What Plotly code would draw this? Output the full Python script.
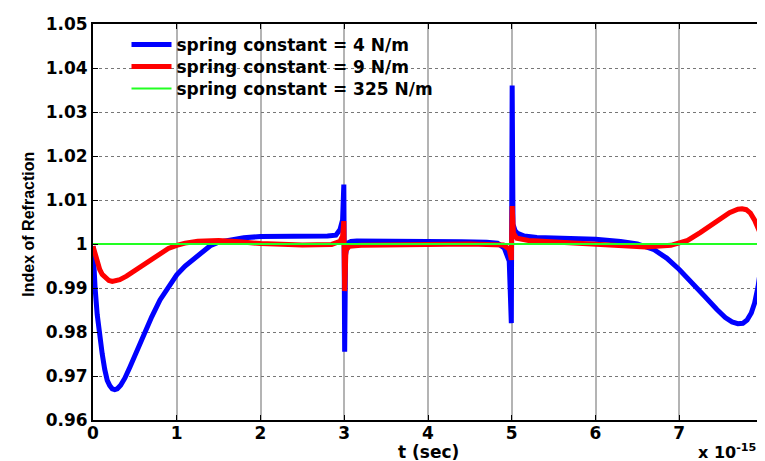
import plotly.graph_objects as go

# time axis in units of 1e-15 s
t_blue = [0.0, 0.01, 0.025, 0.05, 0.08, 0.11, 0.14, 0.17, 0.2, 0.23, 0.26, 0.29, 0.33, 0.38, 0.44, 0.5, 0.6, 0.7, 0.8, 0.9, 1.0, 1.1, 1.2, 1.3, 1.4, 1.5, 1.65, 1.8, 2.0, 2.3, 2.6, 2.8, 2.9, 2.95, 2.98, 2.995, 3.005, 3.015, 3.04, 3.08, 3.15, 3.3, 3.6, 4.0, 4.4, 4.7, 4.83, 4.91, 4.97, 4.995, 5.005, 5.015, 5.04, 5.07, 5.15, 5.3, 5.6, 6.0, 6.3, 6.5, 6.7, 6.85, 7.0, 7.15, 7.3, 7.45, 7.55, 7.63, 7.7, 7.76, 7.81, 7.86, 7.9, 7.94, 7.97, 8.0]
n_blue = [0.9995, 0.995, 0.990, 0.984, 0.979, 0.975, 0.9715, 0.969, 0.9678, 0.9671, 0.9669, 0.9671, 0.9679, 0.9695, 0.972, 0.9748, 0.9792, 0.9834, 0.9873, 0.9904, 0.993, 0.995, 0.9966, 0.9981, 0.9996, 1.0004, 1.001, 1.0014, 1.0017, 1.0017, 1.0016, 1.0018, 1.002, 1.0033, 1.0055, 1.0135, 0.9755, 0.9975, 1.0002, 1.0006, 1.0007, 1.0007, 1.0007, 1.0006, 1.0005, 1.0004, 1.0002, 0.9991, 0.9961, 0.982, 1.036, 1.0045, 1.003, 1.0024, 1.0018, 1.0015, 1.0014, 1.0011, 1.0006, 1.0, 0.9987, 0.9968, 0.9942, 0.9914, 0.9882, 0.9851, 0.9833, 0.9823, 0.9819, 0.9820, 0.9827, 0.9843, 0.9866, 0.9902, 0.9940, 0.998]

t_red = [0.0, 0.02, 0.05, 0.08, 0.11, 0.15, 0.19, 0.23, 0.27, 0.32, 0.4, 0.5, 0.6, 0.7, 0.8, 0.9, 1.0, 1.1, 1.25, 1.5, 1.75, 2.0, 2.5, 2.85, 2.95, 2.98, 2.995, 3.005, 3.02, 3.06, 3.2, 3.6, 4.0, 4.5, 4.9, 4.97, 4.995, 5.005, 5.02, 5.06, 5.2, 5.5, 6.0, 6.3, 6.6, 6.9, 7.0, 7.1, 7.25, 7.4, 7.5, 7.6, 7.7, 7.75, 7.8, 7.85, 7.9, 7.95, 8.0]
n_red = [0.9995, 0.998, 0.9958, 0.9942, 0.9931, 0.9922, 0.9917, 0.9915, 0.9916, 0.9919, 0.9927, 0.994, 0.9953, 0.9966, 0.9979, 0.999, 0.9997, 1.0002, 1.0006, 1.0008, 1.0005, 1.0001, 0.9998, 0.9999, 1.0006, 1.0018, 1.0052, 0.9893, 0.9985, 0.9995, 0.9997, 0.9998, 0.9999, 1.0, 0.9998, 0.9988, 0.9964, 1.0086, 1.0025, 1.0013, 1.0008, 1.0005, 1.0, 0.9997, 0.9993, 0.9997, 1.0002, 1.0008, 1.0026, 1.0045, 1.0059, 1.0071, 1.0079, 1.008, 1.0078, 1.007, 1.0054, 1.0035, 1.001]

t_green = [0.0, 8.0]
n_green = [1.0, 1.0]

x_ticks = [0, 1, 2, 3, 4, 5, 6, 7, 8]
x_labels = ["0", "1", "2", "3", "4", "5", "6", "7", "8"]
y_ticks = [0.96, 0.97, 0.98, 0.99, 1.0, 1.01, 1.02, 1.03, 1.04, 1.05]
y_labels = ["0.96", "0.97", "0.98", "0.99", "1", "1.01", "1.02", "1.03", "1.04", "1.05"]

names = ["spring constant = 4 N/m", "spring constant = 9 N/m", "spring constant = 325 N/m"]

FONT = "DejaVu Sans"
legend_font = dict(family=FONT, size=17, color="black", weight="bold")

fig = go.Figure()
fig.add_trace(go.Scatter(x=t_blue, y=n_blue, mode="lines", name=names[0],
                         line=dict(color="#0000ff", width=5), legend="legend"))
fig.add_trace(go.Scatter(x=t_red, y=n_red, mode="lines", name=names[1],
                         line=dict(color="#ff0000", width=5), legend="legend2"))
fig.add_trace(go.Scatter(x=t_green, y=n_green, mode="lines", name=names[2],
                         line=dict(color="#22ff22", width=2), legend="legend3"))

axis_common = dict(showline=True, linecolor="black", linewidth=2, mirror="ticks",
                   ticks="inside", ticklen=5, tickcolor="black", tickwidth=1,
                   zeroline=False,
                   tickfont=dict(family=FONT, size=17, color="black", weight="bold"))

fig.update_xaxes(range=[0, 8], tickvals=x_ticks, ticktext=x_labels,
                 showgrid=True, gridcolor="#b4b4b4", gridwidth=1.5,
                 ticklabelstandoff=-3, **axis_common)
fig.update_yaxes(range=[0.96, 1.05], tickvals=y_ticks, ticktext=y_labels,
                 showgrid=True, gridcolor="#777777", gridwidth=1, griddash="dot",
                 **axis_common)

def make_legend(ypos):
    return dict(x=0.05, y=ypos, xanchor="left", yanchor="top",
                bgcolor="rgba(0,0,0,0)", borderwidth=0, itemwidth=40,
                font=legend_font)

fig.update_layout(
    width=765, height=461,
    margin=dict(l=85, r=4, t=16, b=49),
    plot_bgcolor="white", paper_bgcolor="white",
    showlegend=True,
    legend=make_legend(0.9924),
    legend2=make_legend(0.9369),
    legend3=make_legend(0.8813),
    shapes=[
        # white backdrop of the legend, hiding the grid behind it
        dict(type="rect", xref="paper", yref="paper", x0=0.049, x1=0.515,
             y0=0.806, y1=0.995, fillcolor="white", line=dict(width=0),
             layer="between"),
    ],
    annotations=[
        dict(text="t (sec)", xref="paper", yref="paper", x=0.5, y=-0.08,
             xanchor="center", yanchor="middle", showarrow=False,
             font=dict(family=FONT, size=17, color="black", weight="bold")),
        dict(text="Index of Refraction", xref="paper", yref="paper", x=-0.096, y=0.495,
             xanchor="center", yanchor="middle", showarrow=False, textangle=-90,
             font=dict(family="Liberation Sans", size=16, color="black", weight="bold")),
        dict(text="x 10<sup>-15</sup>", xref="paper", yref="paper", x=0.993, y=-0.112,
             xanchor="right", yanchor="bottom", showarrow=False,
             font=dict(family=FONT, size=16, color="black", weight="bold")),
    ],
)

fig.write_html("out.html")
